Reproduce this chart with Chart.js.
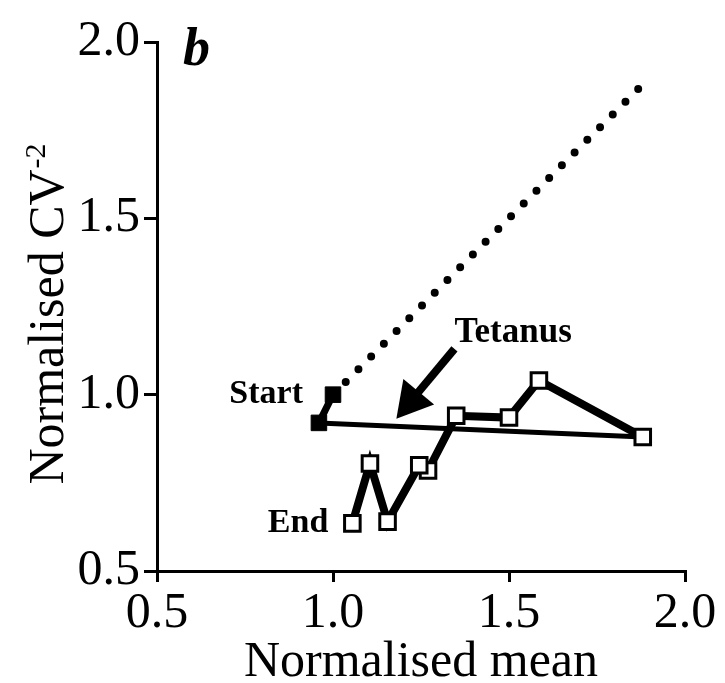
<!DOCTYPE html>
<html>
<head>
<meta charset="utf-8">
<script src="https://cdn.jsdelivr.net/npm/chart.js@4/dist/chart.umd.min.js"></script>
<style>
  html, body { margin: 0; padding: 0; background: #fff; }
  #wrap { width: 725px; height: 683px; }
</style>
</head>
<body>
<div id="wrap"><canvas id="cv-plot"></canvas></div>
<script>
// Normalised mean vs normalised CV^-2, one point per time bin
const startMean = [1.0, 0.96];
const startCV = [1.0, 0.92];
const tetanusMean = [0.96, 1.88];
const tetanusCV = [0.92, 0.88];
const afterMean = [1.88, 1.585, 1.50, 1.35, 1.27, 1.245, 1.155, 1.105, 1.055];
const afterCV = [0.88, 1.04, 0.935, 0.94, 0.785, 0.80, 0.64, 0.805, 0.635];
const unityLine = [1.0, 1.87];
const xTicks = [0.5, 1.0, 1.5, 2.0];
const yTicks = [0.5, 1.0, 1.5, 2.0];

const SERIF = '"Liberation Serif", "Times New Roman", serif';

function pairs(xs, ys) {
  return xs.map((x, i) => ({ x: x, y: ys[i] }));
}

// labels, arrow and axis titles drawn straight onto the canvas
const labelsPlugin = {
  id: 'labels',
  afterDraw(chart) {
    const ctx = chart.ctx;
    const xs = chart.scales.x, ys = chart.scales.y;
    const px = v => xs.getPixelForValue(v);
    const py = v => ys.getPixelForValue(v);
    ctx.save();
    ctx.fillStyle = '#000';
    ctx.strokeStyle = '#000';

    // panel letter
    ctx.font = 'italic bold 54px ' + SERIF;
    ctx.textAlign = 'left';
    ctx.textBaseline = 'alphabetic';
    ctx.fillText('b', 183, 65);

    // x title
    ctx.font = '50px ' + SERIF;
    ctx.textAlign = 'center';
    ctx.fillText('Normalised mean', (xs.left + xs.right) / 2, 676);

    // y title with superscript
    ctx.save();
    ctx.translate(63, (ys.top + ys.bottom) / 2 + 8);
    ctx.rotate(-Math.PI / 2);
    ctx.textAlign = 'left';
    ctx.font = '50px ' + SERIF;
    const main = 'Normalised CV';
    const wMain = ctx.measureText(main).width;
    ctx.font = '30px ' + SERIF;
    const wSup = ctx.measureText('-2').width;
    const x0 = -(wMain + wSup) / 2;
    ctx.font = '50px ' + SERIF;
    ctx.fillText(main, x0, 0);
    ctx.font = '30px ' + SERIF;
    ctx.fillText('-2', x0 + wMain + 1, -18);
    ctx.restore();

    // point labels
    ctx.font = 'bold 34px ' + SERIF;
    ctx.textAlign = 'right';
    ctx.fillText('Start', px(startMean[0]) - 30, py(startCV[0]) + 8);
    ctx.fillText('End', px(afterMean[afterMean.length - 1]) - 24, py(afterCV[afterCV.length - 1]) + 9);

    // tetanus arrow
    const tailX = px(1.345), tailY = py(1.13);
    const tipX = px(1.18), tipY = py(0.932);
    const ang = Math.atan2(tipY - tailY, tipX - tailX);
    const headLen = 35, headHalf = 20;
    const baseX = tipX - headLen * Math.cos(ang), baseY = tipY - headLen * Math.sin(ang);
    ctx.lineWidth = 8;
    ctx.lineCap = 'butt';
    ctx.beginPath();
    ctx.moveTo(tailX, tailY);
    ctx.lineTo(baseX + 4 * Math.cos(ang), baseY + 4 * Math.sin(ang));
    ctx.stroke();
    ctx.beginPath();
    ctx.moveTo(tipX, tipY);
    ctx.lineTo(baseX + headHalf * Math.sin(ang), baseY - headHalf * Math.cos(ang));
    ctx.lineTo(baseX - headHalf * Math.sin(ang), baseY + headHalf * Math.cos(ang));
    ctx.closePath();
    ctx.fill();

    ctx.font = 'bold 35px ' + SERIF;
    ctx.textAlign = 'left';
    ctx.fillText('Tetanus', tailX, tailY - 7);
    ctx.restore();
  }
};

new Chart(document.getElementById('cv-plot'), {
  type: 'scatter',
  data: {
    datasets: [
      {
        // after tetanus
        data: pairs(afterMean, afterCV),
        showLine: true,
        borderColor: '#000',
        borderWidth: 8,
        pointStyle: 'rect',
        pointRadius: 11,
        pointBackgroundColor: '#fff',
        pointBorderColor: '#000',
        pointBorderWidth: 3
      },
      {
        // baseline before tetanus
        data: pairs(startMean, startCV),
        showLine: true,
        borderColor: '#000',
        borderWidth: 7,
        pointStyle: 'rect',
        pointRadius: 11,
        pointBackgroundColor: '#000',
        pointBorderColor: '#000',
        pointBorderWidth: 1
      },
      {
        // jump during tetanus
        data: pairs(tetanusMean, tetanusCV),
        showLine: true,
        borderColor: '#000',
        borderWidth: 5,
        pointRadius: 0
      },
      {
        // unity line
        data: pairs(unityLine, unityLine),
        showLine: true,
        borderColor: '#000',
        borderWidth: 8,
        borderDash: [0, 18],
        borderCapStyle: 'round',
        pointRadius: 0
      }
    ]
  },
  options: {
    responsive: true,
    maintainAspectRatio: false,
    animation: false,
    events: [],
    layout: { padding: { top: 42, right: 40, left: 0, bottom: 0 } },
    plugins: {
      legend: { display: false },
      tooltip: { enabled: false }
    },
    elements: { line: { tension: 0 } },
    datasets: { scatter: { clip: false } },
    scales: {
      x: {
        type: 'linear',
        min: 0.5,
        max: 2.0,
        afterBuildTicks: s => { s.ticks = xTicks.map(v => ({ value: v })); },
        afterFit: s => { s.height = 112; },
        grid: { drawOnChartArea: false, color: '#000', lineWidth: 3, tickLength: 11 },
        border: { color: '#000', width: 3 },
        ticks: {
          color: '#000',
          padding: 2,
          font: { family: SERIF, size: 50 },
          callback: v => v.toFixed(1)
        }
      },
      y: {
        type: 'linear',
        min: 0.5,
        max: 2.0,
        afterBuildTicks: s => { s.ticks = yTicks.map(v => ({ value: v })); },
        afterFit: s => { s.width = 157; },
        grid: { drawOnChartArea: false, color: '#000', lineWidth: 3, tickLength: 13 },
        border: { color: '#000', width: 3 },
        ticks: {
          color: '#000',
          padding: 4,
          font: { family: SERIF, size: 50 },
          callback: v => v.toFixed(1)
        }
      }
    }
  },
  plugins: [labelsPlugin]
});
</script>
</body>
</html>
